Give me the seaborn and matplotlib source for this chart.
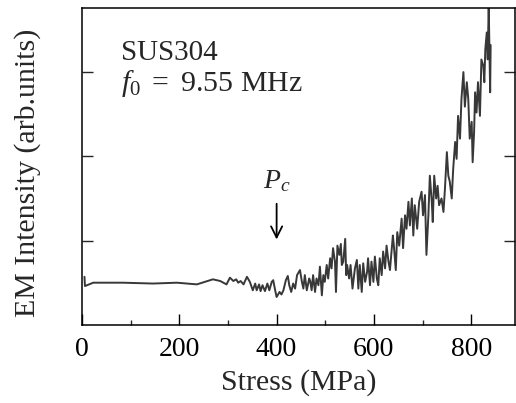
import pandas as pd
import seaborn as sns
import matplotlib
matplotlib.use("Agg")
import matplotlib.pyplot as plt
from matplotlib.ticker import MultipleLocator

# stress (MPa) and EM intensity (arb. units)
stress = [5, 6, 23, 84, 146, 195, 236, 269, 284, 297, 304, 311, 317, 321, 326, 332,
          339, 345, 351, 356, 359, 364, 367, 371, 376, 381, 385, 390, 393, 397,
          400, 406, 410, 414, 419, 423, 426, 430, 434, 438, 442, 448, 452, 455,
          458, 462, 467,
          469, 472, 475, 479, 482, 486, 489, 493, 496, 499, 503, 506, 510, 513,
          516, 520, 522, 525, 529, 532, 534, 537, 541, 543, 545, 549, 552, 556,
          561, 565, 568, 571, 575, 578, 582, 586, 588, 592, 595, 599, 602, 606,
          609, 612, 616, 619, 623, 626, 630,
          633, 639, 641, 645, 648, 652, 657, 660, 664, 667, 671, 674, 678, 681,
          684, 689, 693, 698, 701, 705, 708, 712, 715, 719, 721, 724, 728, 731,
          734, 739, 743, 746, 750, 753,
          756, 760, 763, 767, 770, 773, 777, 780, 784, 787, 791, 794, 797, 801,
          803, 806, 808, 811, 814, 818, 821, 825, 827, 829, 832, 834, 836, 839,
          840]
intensity = [0.57, 0.46, 0.50, 0.50, 0.49, 0.50, 0.48, 0.54, 0.52, 0.48, 0.56, 0.52,
             0.54, 0.50, 0.52, 0.48, 0.57, 0.51, 0.41, 0.49, 0.41, 0.48, 0.40, 0.47,
             0.40, 0.49, 0.41, 0.51, 0.53, 0.41, 0.33, 0.39, 0.36, 0.41, 0.53, 0.58,
             0.47, 0.39, 0.49, 0.43, 0.59, 0.65, 0.51, 0.43, 0.59, 0.41, 0.55,
             0.52, 0.41, 0.59, 0.39, 0.55, 0.47, 0.69, 0.35, 0.59, 0.51, 0.71, 0.55,
             0.79, 0.67, 0.91, 0.75, 0.39, 0.94, 0.83, 0.96, 0.71, 0.75, 1.02, 0.59,
             0.71, 0.55, 0.71, 0.43, 0.67, 0.77, 0.43, 0.71, 0.39, 0.73, 0.51, 0.63,
             0.79, 0.47, 0.75, 0.51, 0.81, 0.55, 0.47, 0.79, 0.59, 0.87, 0.67, 0.94,
             0.75,
             0.65, 1.06, 0.94, 0.65, 1.10, 0.94, 1.26, 0.91, 1.30, 1.14, 1.46, 1.18,
             1.50, 1.06, 1.42, 1.14, 1.46, 1.58, 1.30, 1.54, 0.83, 1.30, 1.77, 1.46,
             1.22, 1.77, 1.50, 1.65, 1.42, 1.50, 1.34, 1.61, 2.05, 1.77,
             1.70, 1.50, 1.85, 2.17, 1.97, 2.48, 2.21, 2.68, 3.00, 2.59, 2.88, 2.68,
             2.21, 2.41, 1.93, 2.29, 2.76, 2.52, 2.88, 2.48, 3.15, 3.07, 2.88, 3.27,
             3.47, 3.15, 3.80, 2.76, 3.32]

xticks = [0, 200, 400, 600, 800]
yticks = [1, 2, 3]

df = pd.DataFrame({"Stress": stress, "EM": intensity})

sns.set_style("ticks")
plt.rcParams["font.family"] = ["Liberation Serif", "DejaVu Serif"]
plt.rcParams["mathtext.fontset"] = "custom"
plt.rcParams["mathtext.rm"] = "Liberation Serif"
plt.rcParams["mathtext.it"] = "Liberation Serif:italic"

fig = plt.figure(figsize=(5.16, 4.03), dpi=100)
ax = fig.add_axes([0.159, 0.194, 0.839, 0.786])

sns.lineplot(data=df, x="Stress", y="EM", ax=ax, color="#383838",
             linewidth=1.4, sort=False, estimator=None)

ax.set_xlim(0, 890)
ax.set_ylim(0, 3.76)
ax.set_xticks(xticks)
ax.xaxis.set_minor_locator(MultipleLocator(100))
ax.set_yticks(yticks)
ax.set_yticklabels([])
ax.tick_params(axis="x", which="major", direction="in", length=8, width=1,
               labelsize=20, pad=9, colors="black")
ax.tick_params(axis="x", which="minor", direction="in", length=3.6, width=1)
ax.tick_params(axis="y", which="major", direction="in", length=8, width=1,
               left=True, right=True)
for s in ax.spines.values():
    s.set_linewidth(1.1)
    s.set_color("black")

ax.set_xlabel("Stress (MPa)", fontsize=21.5, labelpad=5)
ax.set_ylabel("EM Intensity (arb.units)", fontsize=21.5)
ax.yaxis.set_label_coords(-0.095, 0.48)

ax.text(0.09, 0.836, "SUS304", transform=ax.transAxes, fontsize=21)
ax.text(0.09, 0.738, r"$f_0\ =\ 9.55$ MHz", transform=ax.transAxes, fontsize=21.5)
ax.text(400, 1.62, r"$P_c$", fontsize=20, ha="center")
ax.annotate("", xy=(400, 0.98), xytext=(400, 1.47),
            arrowprops=dict(arrowstyle="->", color="black", lw=1.3,
                            mutation_scale=20))

fig.savefig("out.png", dpi=100)
